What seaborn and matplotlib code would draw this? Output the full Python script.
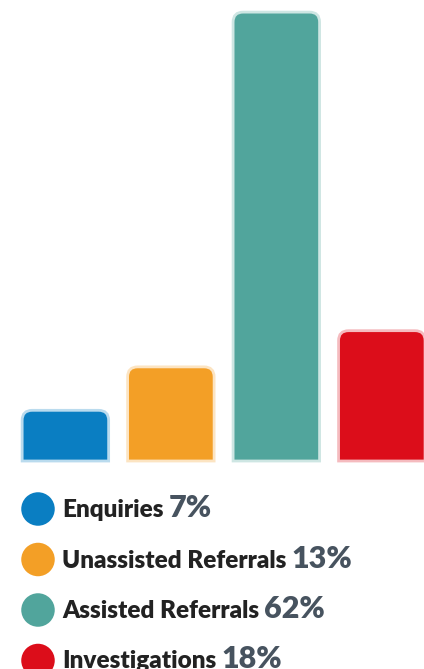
import matplotlib
matplotlib.use("Agg")
import matplotlib.pyplot as plt
import seaborn as sns
import pandas as pd
import numpy as np
from matplotlib.path import Path
from matplotlib.patches import PathPatch
from matplotlib.colors import to_rgb

categories = ["Enquiries", "Unassisted Referrals", "Assisted Referrals", "Investigations"]
values = [7, 13, 62, 18]
pct_labels = ["7%", "13%", "62%", "18%"]
colors = ["#0a7ec2", "#f39f26", "#51a59c", "#dc0d1a"]

sns.set_style("white")
plt.rcParams["font.family"] = ["Lato", "DejaVu Sans"]

W, H = 424, 669
fig = plt.figure(figsize=(W / 100, H / 100), dpi=100)
bar_bottom_px = 461
ax = fig.add_axes([0, (H - bar_bottom_px) / H, 1, bar_bottom_px / H])

df = pd.DataFrame({"cat": categories, "val": values})
sns.barplot(data=df, x="cat", y="val", hue="cat", palette=colors, legend=False,
            width=0.82, ax=ax, saturation=1)
ax.set_xlim(-0.62, 3.40)
px_per_unit = 7.24
ax.set_ylim(0, bar_bottom_px / px_per_unit)
ax.axis("off")

def light(c, f=0.72):
    r = np.array(to_rgb(c))
    return tuple(r + (1 - r) * f)

rx = 10 / 105.5
ry = 10 / px_per_unit
for p, c in zip(list(ax.patches), colors):
    x0, y0 = p.get_x(), p.get_y()
    w, h = p.get_width(), p.get_height()
    x1, y1 = x0 + w, y0 + h
    verts = [(x0, y0), (x0, y1 - ry), (x0, y1), (x0 + rx, y1), (x1 - rx, y1),
             (x1, y1), (x1, y1 - ry), (x1, y0), (x0, y0)]
    codes = [Path.MOVETO, Path.LINETO, Path.CURVE3, Path.CURVE3, Path.LINETO,
             Path.CURVE3, Path.CURVE3, Path.LINETO, Path.CLOSEPOLY]
    ax.add_patch(PathPatch(Path(verts, codes), facecolor=c, edgecolor=light(c),
                           linewidth=2.0, clip_on=False, zorder=3))
    p.set_visible(False)

# legend area
lax = fig.add_axes([0, 0, 1, (H - bar_bottom_px) / H])
lax.set_xlim(0, W)
lax.set_ylim(H - bar_bottom_px, 0)
lax.axis("off")
row_y = [509 - bar_bottom_px + i * 50.5 for i in range(4)]
lax.scatter([38] * 4, row_y, s=(33.5 * 0.72) ** 2, c=colors, linewidths=0, clip_on=False)

fig.canvas.draw()
renderer = fig.canvas.get_renderer()
for lab, pct, y in zip(categories, pct_labels, row_y):
    t = lax.text(62, y + 8, lab, fontsize=17.5, fontweight="heavy", color="#222222",
                 va="baseline", ha="left")
    bb = t.get_window_extent(renderer=renderer)
    x_end = lax.transData.inverted().transform((bb.x1, bb.y0))[0]
    lax.text(x_end + 5, y + 8, pct, fontsize=22, fontweight="heavy", color="#47535f",
             va="baseline", ha="left")

fig.savefig("out.png", dpi=100)
